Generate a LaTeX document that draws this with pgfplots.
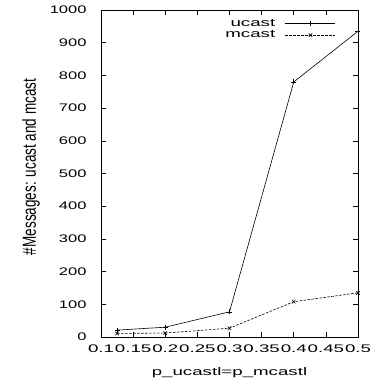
\documentclass[border=0pt]{standalone}
\usepackage{fontspec}
\setmainfont{Liberation Sans}
\newfontfamily\wide[FakeStretch=1.7]{Liberation Sans}
\newfontfamily\wideb[FakeStretch=1.5]{Liberation Sans}
\usepackage{graphicx}
\usepackage{pgfplots}
\pgfplotsset{compat=1.18}
\newcommand{\tfont}{\wide\fontsize{11bp}{13bp}\selectfont}
\newcommand{\yfont}{\wideb\fontsize{11bp}{13bp}\selectfont}
\begin{document}
\begin{tikzpicture}
\begin{axis}[
  at={(0,0)}, anchor=south west,
  scale only axis, width=257bp, height=327bp,
  xmin=0.1, xmax=0.5, ymin=0, ymax=1000,
  xtick={0.1,0.15,0.2,0.25,0.3,0.35,0.4,0.45,0.5},
  xticklabels={0.1,0.15,0.2,0.25,0.3,0.35,0.4,0.45,0.5},
  ytick={0,100,200,300,400,500,600,700,800,900,1000},
  /pgf/number format/assume math mode=true,
  /pgf/number format/1000 sep={},
  tick align=inside, major tick length=5bp,
  tick style={black, line width=0.5pt},
  axis line style={line width=0.9pt},
  xticklabel style={font=\tfont, yshift=-4bp},
  yticklabel style={font=\yfont, xshift=-11bp},
  xlabel={p\_ucastl=p\_mcastl},
  xlabel style={at={(axis description cs:0.5,0)}, anchor=center, yshift=-36bp, font=\tfont},
  ylabel={\scalebox{1}[1.4]{\#Messages: ucast and mcast}},
  ylabel style={at={(axis description cs:-0.272,0.52)}, anchor=center, font=\fontsize{13.5bp}{16bp}\selectfont},
  legend style={at={(axis description cs:1,1)}, anchor=north east, xshift=-22bp, yshift=-7bp,
    draw=none, fill=none, font=\tfont, row sep=-1bp, column sep=8bp, inner sep=0pt},
  legend cell align=right,
  legend plot pos=right,
  legend image code/.code={\draw[#1, mark repeat=2, mark phase=2] plot coordinates {(0bp,0bp) (25bp,0bp) (50bp,0bp)};},
  clip=false,
]
\addplot[black, line width=0.6pt, mark=+, mark size=2.5bp] coordinates {(0.125,21)(0.2,30)(0.3,77)(0.4,780)(0.5,935)};
\addlegendentry{ucast}
\addplot[black, line width=0.6pt, dash pattern=on 2.5bp off 1.5bp, mark=x, mark size=2.5bp, mark options={solid}] coordinates {(0.125,11)(0.2,12)(0.3,27)(0.4,108)(0.5,135)};
\addlegendentry{mcast}
\end{axis}
\pgfresetboundingbox
\path (-101bp,-48bp) rectangle (282bp,337bp);
\end{tikzpicture}
\end{document}
